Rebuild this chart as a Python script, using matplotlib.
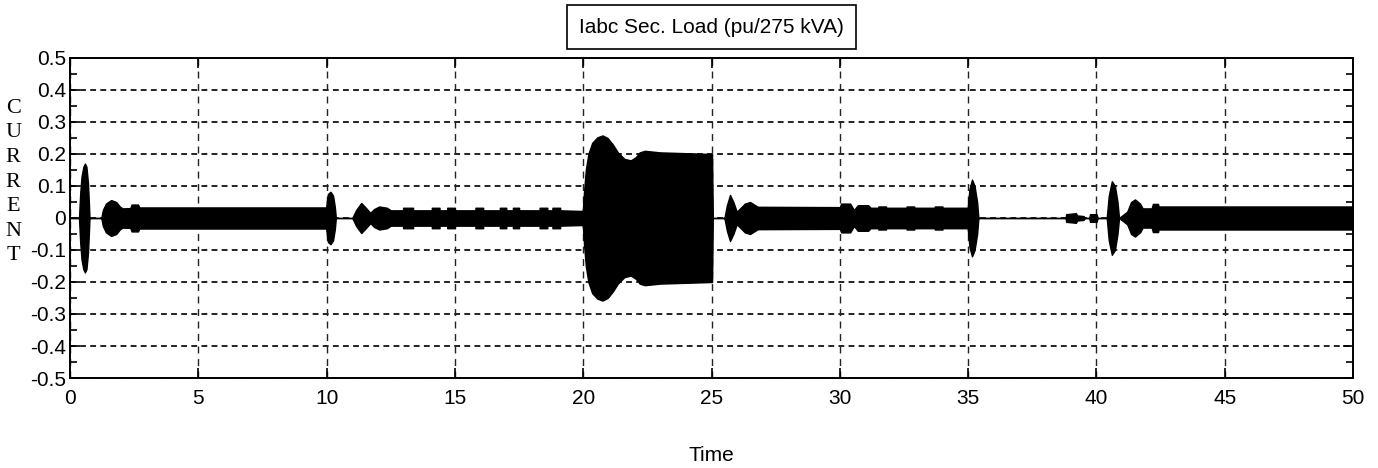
import numpy as np
import matplotlib
matplotlib.use('Agg')
import matplotlib.pyplot as plt

# enveloppe du courant Iabc (pu), points releves : temps / amplitude crete
t_env = [0.0, 0.35, 0.40, 0.45, 0.52, 0.58, 0.64, 0.70, 0.74, 0.76,
         1.22, 1.28, 1.40, 1.60, 1.80, 1.95, 2.05, 2.35, 2.40, 2.65, 2.70,
         9.98, 10.05, 10.15, 10.25, 10.32, 10.36,
         11.0, 11.15, 11.35, 11.55, 11.70, 11.85, 12.05, 12.35, 12.50,
         12.98, 12.98, 13.37, 13.37, 14.1, 14.1, 14.4, 14.4, 14.7, 14.7,
         15.0, 15.0, 15.8, 15.8, 16.1, 16.1, 16.75, 16.75, 17.0, 17.0,
         17.26, 17.26, 17.5, 17.5, 18.3, 18.3, 18.6, 18.6, 18.8, 18.8,
         19.1, 19.1, 19.96,
         19.98, 20.03, 20.10, 20.20, 20.35, 20.55, 20.75, 20.95, 21.15,
         21.35, 21.60, 21.85, 22.05, 22.20, 22.40, 23.0, 25.02, 25.05,
         25.50, 25.60, 25.72, 25.85, 25.98, 26.05, 26.30, 26.50, 26.70,
         26.80, 30.0, 30.05, 30.40, 30.55, 30.70, 31.10, 31.20,
         31.5, 31.5, 31.8, 31.8, 32.6, 32.6, 32.9, 32.9, 33.7, 33.7,
         34.0, 34.0, 34.98, 35.05, 35.15, 35.25, 35.35, 35.40,
         38.80, 38.82, 39.20, 39.25, 39.50, 39.55, 39.72, 39.75, 40.0, 40.05,
         40.40, 40.48, 40.60, 40.72, 40.82, 40.88,
         41.20, 41.35, 41.50, 41.70, 41.80, 42.15, 42.20, 42.40, 42.42, 50.0]
a_env = [0.0, 0.0, 0.08, 0.13, 0.16, 0.17, 0.16, 0.11, 0.04, 0.0,
         0.0, 0.025, 0.045, 0.056, 0.05, 0.035, 0.03, 0.031, 0.042, 0.042, 0.033,
         0.033, 0.075, 0.082, 0.07, 0.035, 0.0,
         0.0, 0.025, 0.047, 0.03, 0.016, 0.028, 0.036, 0.032, 0.024,
         0.024, 0.032, 0.032, 0.024, 0.024, 0.032, 0.032, 0.024, 0.024, 0.032,
         0.032, 0.024, 0.024, 0.032, 0.032, 0.024, 0.024, 0.032, 0.032, 0.024,
         0.024, 0.032, 0.032, 0.024, 0.024, 0.032, 0.032, 0.024, 0.024, 0.032,
         0.032, 0.024, 0.022,
         0.02, 0.08, 0.15, 0.2, 0.235, 0.252, 0.258, 0.25, 0.23,
         0.205, 0.185, 0.18, 0.19, 0.205, 0.21, 0.205, 0.2, 0.0,
         0.0, 0.04, 0.072, 0.05, 0.02, 0.025, 0.045, 0.05, 0.04,
         0.035, 0.034, 0.045, 0.045, 0.025, 0.04, 0.04, 0.032,
         0.032, 0.036, 0.036, 0.032, 0.032, 0.036, 0.036, 0.032, 0.032, 0.036,
         0.036, 0.032, 0.032, 0.09, 0.12, 0.1, 0.05, 0.0,
         0.0, 0.012, 0.015, 0.008, 0.006, 0.0, 0.0, 0.012, 0.012, 0.0,
         0.0, 0.07, 0.115, 0.1, 0.05, 0.0,
         0.02, 0.05, 0.058, 0.045, 0.03, 0.03, 0.044, 0.044, 0.036, 0.036]

xticks = [0, 5, 10, 15, 20, 25, 30, 35, 40, 45, 50]
yticks = [-0.5, -0.4, -0.3, -0.2, -0.1, 0, 0.1, 0.2, 0.3, 0.4, 0.5]
ylabels = ['-0.5', '-0.4', '-0.3', '-0.2', '-0.1', '0',
           '0.1', '0.2', '0.3', '0.4', '0.5']

sans = ['Liberation Sans', 'DejaVu Sans']
serif = ['Liberation Serif', 'DejaVu Serif']

fig = plt.figure(figsize=(13.78, 4.68), dpi=100)
ax = fig.add_axes([0.0508, 0.1923, 0.9311, 0.6838])

t = np.array(t_env)
a = np.array(a_env)
ax.fill_between(t, -a, a, facecolor='k', edgecolor='k', lw=1.0, zorder=3)

ax.set_xlim(0, 50)
ax.set_ylim(-0.5, 0.5)
ax.set_xticks(xticks)
ax.set_xticklabels([str(v) for v in xticks], family=sans, fontsize=15)
ax.set_yticks(yticks)
ax.set_yticklabels(ylabels, family=sans, fontsize=15)
ax.set_yticks(np.arange(-0.45, 0.5, 0.1), minor=True)

ax.tick_params(axis='both', which='major', direction='in', length=7,
               width=1.2, top=True, right=True, color='k')
ax.tick_params(axis='y', which='minor', direction='in', length=5,
               width=1.2, right=True, left=True)
ax.tick_params(axis='y', pad=3)
ax.tick_params(axis='x', pad=8)

ax.xaxis.grid(True, color='#222222', linestyle=(0, (5, 4)), lw=1.0)
ax.yaxis.grid(True, color='#222222', linestyle=(0, (3, 2.2)), lw=1.4)
ax.set_axisbelow(True)
for s in ax.spines.values():
    s.set_linewidth(1.4)

ax.set_title('Iabc Sec. Load (pu/275 kVA)', family=sans, fontsize=15, pad=18,
             bbox=dict(boxstyle='square,pad=0.6', fc='white', ec='k', lw=1.2))
ax.set_xlabel('Time', family=sans, fontsize=15, labelpad=27)

fig.text(0.0095, 0.611, '\n'.join('CURRENT'), family=serif, fontsize=16,
         ha='center', va='center', linespacing=1.4)

fig.savefig('out.png', dpi=100)
